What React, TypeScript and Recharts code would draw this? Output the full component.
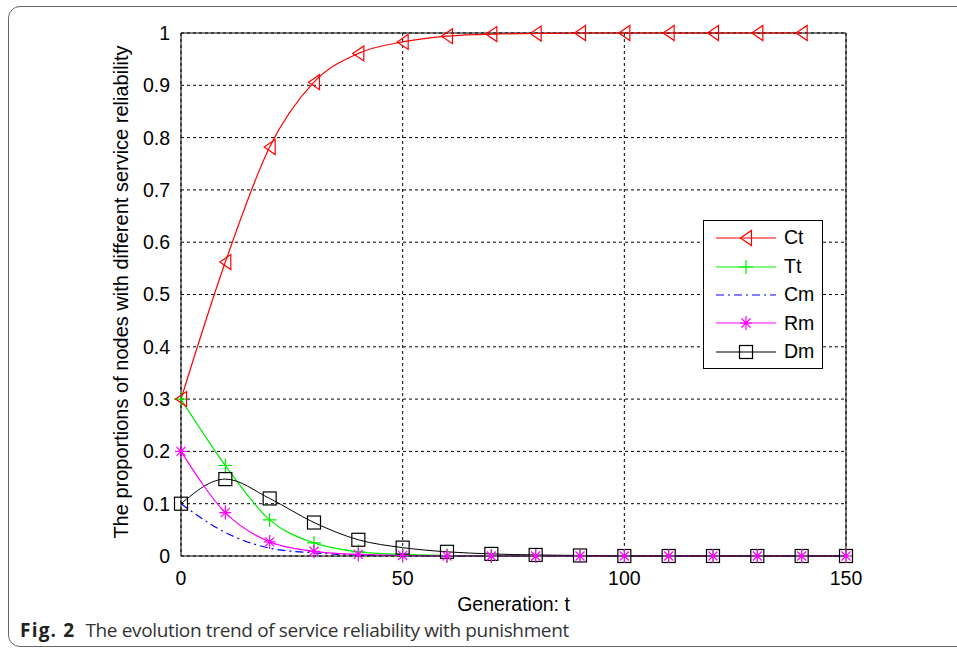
import React from 'react'
import {
  LineChart,
  Line,
  XAxis,
  YAxis,
  CartesianGrid,
  ReferenceLine,
} from 'recharts'

const generations = [0, 10, 20, 30, 40, 50, 60, 70, 80, 90, 100, 110, 120, 130, 140, 150]
const ct = [0.3, 0.562, 0.782, 0.906, 0.961, 0.983, 0.994, 0.998, 0.999, 1, 1, 1, 1, 1, 1, null]
const tt = [0.3, 0.173, 0.069, 0.025, 0.008, 0.003, 0.001, 0, 0, 0, 0, 0, 0, 0, 0, 0]
const cm = [0.1, 0.045, 0.015, 0.006, 0.002, 0.001, 0, 0, 0, 0, 0, 0, 0, 0, 0, 0]
const rm = [0.2, 0.083, 0.027, 0.009, 0.003, 0.001, 0, 0, 0, 0, 0, 0, 0, 0, 0, 0]
const dm = [0.1, 0.147, 0.11, 0.064, 0.031, 0.016, 0.008, 0.004, 0.002, 0.001, 0, 0, 0, 0, 0, 0]

const xTicks = [0, 50, 100, 150]
const yTicks = [0, 0.1, 0.2, 0.3, 0.4, 0.5, 0.6, 0.7, 0.8, 0.9, 1]
const yTitle = 'The proportions of nodes with different service reliability'

const data = generations.map((t, i) => ({ t, ct: ct[i], tt: tt[i], cm: cm[i], rm: rm[i], dm: dm[i] }))

const RED = '#ff0000'
const GREEN = '#00ee00'
const BLUE = '#0000ff'
const MAGENTA = '#ff00ff'
const FONT = '"Liberation Sans", Arial, sans-serif'
const FS = 19.5

function Marker({ kind, cx, cy, color }: { kind: string; cx: number; cy: number; color: string }) {
  if (kind === 'tri')
    return (
      <polygon
        points={`${cx - 5.5},${cy} ${cx + 5.5},${cy - 7.5} ${cx + 5.5},${cy + 7.5}`}
        fill="none"
        stroke={color}
        strokeWidth={1.2}
      />
    )
  if (kind === 'plus')
    return (
      <path d={`M${cx - 7},${cy}H${cx + 7}M${cx},${cy - 7}V${cy + 7}`} stroke={color} strokeWidth={1.2} fill="none" />
    )
  if (kind === 'star')
    return (
      <path
        d={`M${cx - 6},${cy}H${cx + 6}M${cx},${cy - 7}V${cy + 7}M${cx - 4.5},${cy - 4.5}L${cx + 4.5},${cy + 4.5}M${cx - 4.5},${cy + 4.5}L${cx + 4.5},${cy - 4.5}`}
        stroke={color}
        strokeWidth={1.2}
        fill="none"
      />
    )
  if (kind === 'square')
    return <rect x={cx - 6.5} y={cy - 6.5} width={13} height={13} fill="none" stroke={color} strokeWidth={1.2} />
  return null
}

const makeDot = (kind: string, color: string) => (props: any) => {
  const { cx, cy, index, value } = props
  if (cx == null || cy == null || value == null) return <g key={`${kind}-${index}`} />
  return (
    <g key={`${kind}-${index}`}>
      <Marker kind={kind} cx={cx} cy={cy} color={color} />
    </g>
  )
}

const legendItems = [
  { name: 'Ct', color: RED, kind: 'tri', dash: undefined },
  { name: 'Tt', color: GREEN, kind: 'plus', dash: undefined },
  { name: 'Cm', color: BLUE, kind: 'none', dash: '8 4 2 4' },
  { name: 'Rm', color: MAGENTA, kind: 'star', dash: undefined },
  { name: 'Dm', color: '#000', kind: 'square', dash: undefined },
]

function LegendBox() {
  return (
    <div
      style={{
        position: 'absolute',
        left: 703,
        top: 220,
        width: 120,
        height: 149,
        border: '1px solid #000',
        background: '#fff',
        fontFamily: FONT,
        fontSize: FS,
        paddingTop: 3,
        boxSizing: 'border-box',
      }}
    >
      {legendItems.map((it) => (
        <div key={it.name} style={{ display: 'flex', alignItems: 'center', height: 28.4 }}>
          <svg width={80} height={28} style={{ display: 'block' }}>
            <line x1={12} x2={72} y1={14} y2={14} stroke={it.color} strokeWidth={1.2} strokeDasharray={it.dash} />
            <Marker kind={it.kind} cx={42} cy={14} color={it.color} />
          </svg>
          <span style={{ color: '#000', lineHeight: 1 }}>{it.name}</span>
        </div>
      ))}
    </div>
  )
}

export default function App() {
  return (
    <div style={{ position: 'absolute', left: 0, top: 0, width: 957, height: 650, background: '#fff', overflow: 'hidden' }}>
      <div
        style={{
          position: 'absolute',
          left: 8,
          top: 6,
          width: 1100,
          height: 639,
          border: '1.5px solid #666',
          borderRadius: 12,
        }}
      />
      <div style={{ position: 'absolute', left: 0, top: 0 }}>
        <LineChart
          width={900}
          height={620}
          data={data}
          margin={{ top: 33, right: 54, left: 0, bottom: 0 }}
          style={{ fontFamily: FONT }}
        >
          <CartesianGrid stroke="#000" strokeDasharray="3 3" strokeWidth={1} horizontalValues={yTicks} verticalValues={xTicks} />
          <XAxis
            dataKey="t"
            type="number"
            domain={[0, 150]}
            ticks={xTicks}
            height={64}
            tickSize={0}
            tickMargin={15}
            axisLine={{ stroke: '#000', strokeWidth: 1 }}
            tick={{ fontSize: FS, fill: '#000' }}
            label={{ value: 'Generation: t', position: 'insideBottom', offset: 9, fontSize: FS, fill: '#000' }}
          />
          <YAxis
            type="number"
            domain={[0, 1]}
            ticks={yTicks}
            width={181}
            tickSize={0}
            tickMargin={11}
            axisLine={{ stroke: '#000', strokeWidth: 1 }}
            tick={{ fontSize: FS, fill: '#000' }}
            tickFormatter={(v: number) => (v === 0 || v === 1 ? String(v) : v.toFixed(1))}
          />
          <ReferenceLine y={1} stroke="#000" strokeWidth={1} />
          <ReferenceLine x={150} stroke="#000" strokeWidth={1} />
          <Line type="monotone" dataKey="cm" stroke={BLUE} strokeWidth={1.2} strokeDasharray="8 4 2 4" dot={false} isAnimationActive={false} />
          <Line type="monotone" dataKey="tt" stroke={GREEN} strokeWidth={1.2} dot={makeDot('plus', GREEN)} isAnimationActive={false} />
          <Line type="monotone" dataKey="dm" stroke="#000" strokeWidth={1} dot={makeDot('square', '#000')} isAnimationActive={false} />
          <Line type="monotone" dataKey="rm" stroke={MAGENTA} strokeWidth={1.2} dot={makeDot('star', MAGENTA)} isAnimationActive={false} />
          <Line type="monotone" dataKey="ct" stroke={RED} strokeWidth={1.2} dot={makeDot('tri', RED)} isAnimationActive={false} />
        </LineChart>
      </div>
      <div
        style={{
          position: 'absolute',
          left: 121 - 300,
          top: 292 - 12,
          width: 600,
          height: 24,
          lineHeight: '24px',
          textAlign: 'center',
          fontFamily: FONT,
          fontSize: 20,
          color: '#000',
          whiteSpace: 'nowrap',
          transform: 'rotate(-90deg)',
          transformOrigin: '50% 50%',
        }}
      >
        {yTitle}
      </div>
      <LegendBox />
      <div
        style={{
          position: 'absolute',
          left: 20,
          top: 617,
          fontFamily: '"Open Sans", "Noto Sans", sans-serif',
          fontSize: 19,
          color: '#333',
          whiteSpace: 'nowrap',
        }}
      >
        <b style={{ color: '#222', letterSpacing: 1.2 }}>Fig. 2</b>
        <span style={{ marginLeft: 10, letterSpacing: -0.35 }}>The evolution trend of service reliability with punishment</span>
      </div>
    </div>
  )
}
